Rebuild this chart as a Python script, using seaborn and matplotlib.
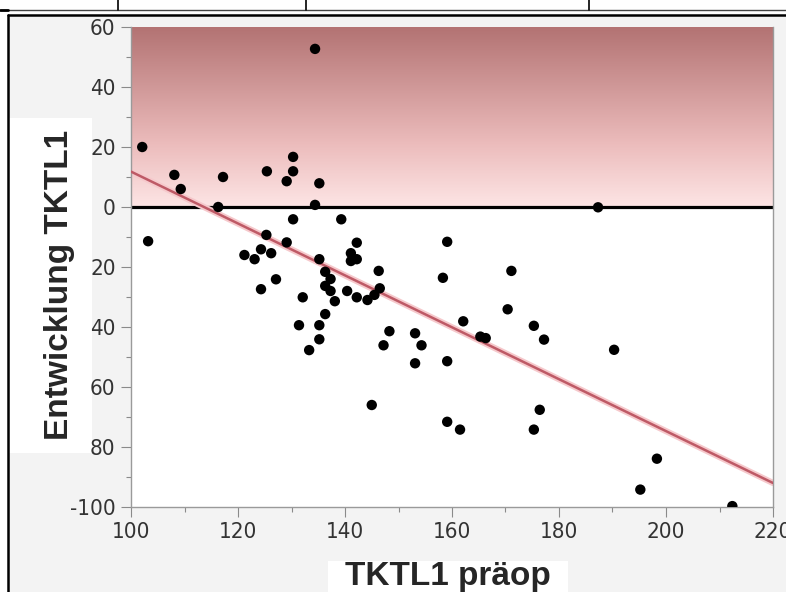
import numpy as np
import pandas as pd
import matplotlib
matplotlib.use("Agg")
import matplotlib.pyplot as plt
import seaborn as sns
from matplotlib.colors import LinearSegmentedColormap
from matplotlib.patches import Rectangle
from matplotlib.lines import Line2D
from matplotlib.ticker import MultipleLocator, FixedLocator, FixedFormatter

# ---- data ----
tktl1_praeop = [102.1, 103.2, 108.1, 109.3, 117.2, 116.3, 125.4, 130.3, 130.3, 129.1,
                135.2, 134.4, 134.4, 130.3, 139.3, 125.3, 129.1, 121.2, 123.1, 124.3,
                126.2, 135.2, 142.2, 141.1, 141.1, 142.2, 136.3, 137.3, 136.3, 137.3,
                127.1, 124.3, 132.1, 138.1, 140.4, 142.2, 136.3, 131.4, 135.2, 135.2,
                133.3, 146.3, 159.1, 158.3, 171.1, 146.5, 145.5, 144.2, 148.3, 147.2,
                153.1, 154.3, 153.1, 159.1, 162.1, 165.3, 166.3, 170.4, 187.3, 175.3,
                177.2, 190.3, 159.1, 161.5, 176.4, 175.3, 198.3, 195.2, 212.4, 145.0]
entwicklung = [20.0, -11.4, 10.7, 6.0, 10.0, 0.0, 11.9, 16.7, 11.9, 8.6,
               7.9, 0.7, 52.7, -4.1, -4.1, -9.3, -11.8, -16.0, -17.4, -14.1,
               -15.4, -17.4, -11.9, -15.4, -18.0, -17.4, -21.6, -24.0, -26.3, -28.0,
               -24.1, -27.4, -30.1, -31.4, -28.0, -30.1, -35.7, -39.4, -39.4, -44.1,
               -47.7, -21.3, -11.6, -23.6, -21.3, -27.1, -29.3, -31.0, -41.4, -46.1,
               -42.1, -46.1, -52.1, -51.4, -38.1, -43.2, -43.7, -34.1, -0.1, -39.6,
               -44.2, -47.6, -71.6, -74.2, -67.6, -74.2, -83.9, -94.2, -99.7, -66.0]
fit_x = [100, 220]
fit_y = [11.8, -92.0]
zone_y = [0, 60]
x_ticks = [100, 120, 140, 160, 180, 200, 220]
x_ticklabels = ["100", "120", "140", "160", "180", "200", "220"]
y_ticks = [60, 40, 20, 0, -20, -40, -60, -80, -100]
y_ticklabels = ["60", "40", "20", "0", "20", "40", "60", "80", "-100"]

df = pd.DataFrame({"x": tktl1_praeop, "y": entwicklung})
fit = pd.DataFrame({"x": fit_x, "y": fit_y})

sns.set_style("white")
plt.rcParams["font.family"] = ["DejaVu Sans"]
plt.rcParams["font.stretch"] = "condensed"

W, H = 786, 592
fig = plt.figure(figsize=(W / 100, H / 100), dpi=100, facecolor="white")

def fx(px):
    return px / W

def fy(py):
    return 1 - py / H

# background panel and frame
fig.add_artist(Rectangle((fx(8), 0), 1 - fx(8), fy(15), transform=fig.transFigure,
                         facecolor="#f3f3f3", edgecolor="none", zorder=-10))
fig.add_artist(Rectangle((fx(8), fy(453)), fx(92) - fx(8), fy(118) - fy(453),
                         transform=fig.transFigure, facecolor="white", edgecolor="none", zorder=-9))
fig.add_artist(Rectangle((fx(328), 0), fx(568) - fx(328), fy(561),
                         transform=fig.transFigure, facecolor="white", edgecolor="none", zorder=-9))
fig.add_artist(Line2D([fx(8), fx(8)], [0, fy(15)], transform=fig.transFigure, color="black", lw=1.8))
fig.add_artist(Line2D([fx(8), 1], [fy(15), fy(15)], transform=fig.transFigure, color="black", lw=1.8))
fig.add_artist(Line2D([0, 1], [fy(9.5), fy(9.5)], transform=fig.transFigure, color="#444444", lw=1.0))
fig.add_artist(Line2D([0, fx(8)], [fy(10), fy(10)], transform=fig.transFigure, color="black", lw=2.0))
for vx in (118, 306, 589):
    fig.add_artist(Line2D([fx(vx), fx(vx)], [fy(9.5), 1], transform=fig.transFigure, color="black", lw=1.2))

ax = fig.add_axes([fx(131), fy(507), fx(773) - fx(131), fy(27) - fy(507)])
ax.set_facecolor("white")

# gradient zone above zero
cmap = LinearSegmentedColormap.from_list("zone", [(0, "#fde5e5"), (0.35, "#ecbcbc"), (1, "#b37373")])
grad = np.linspace(0, 1, 256).reshape(-1, 1)
ax.imshow(grad, cmap=cmap, origin="lower", aspect="auto",
          extent=[x_ticks[0], x_ticks[-1], zone_y[0], zone_y[1]], zorder=0)

ax.axhline(0, color="black", lw=2.3, zorder=2)
sns.lineplot(data=fit, x="x", y="y", ax=ax, color="#f6c9cc", lw=4.5, zorder=2, legend=False)
sns.lineplot(data=fit, x="x", y="y", ax=ax, color="#be5a66", lw=1.8, zorder=3, legend=False)
sns.scatterplot(data=df, x="x", y="y", ax=ax, color="black", s=56, edgecolor="none", zorder=4)

ax.set_xlim(100, 220)
ax.set_ylim(-100, 60)
ax.xaxis.set_major_locator(FixedLocator(x_ticks))
ax.xaxis.set_major_formatter(FixedFormatter(x_ticklabels))
ax.xaxis.set_minor_locator(MultipleLocator(10))
ax.yaxis.set_major_locator(FixedLocator(y_ticks))
ax.yaxis.set_major_formatter(FixedFormatter(y_ticklabels))
ax.yaxis.set_minor_locator(MultipleLocator(10))
ax.tick_params(which="major", direction="out", length=7, width=0.8, color="#8a8a8a",
               labelsize=16, labelcolor="#333333", pad=4, left=True, bottom=True)
ax.tick_params(which="minor", direction="out", length=3.5, width=0.8, color="#8a8a8a",
               left=True, bottom=True)
for lab in ax.get_xticklabels() + ax.get_yticklabels():
    lab.set_fontstretch("condensed")

for side in ("left", "bottom", "right"):
    ax.spines[side].set_color("#9a9a9a")
    ax.spines[side].set_linewidth(1.0)
ax.spines["top"].set_visible(False)

ax.set_xlabel("TKTL1 präop", fontsize=24, fontweight="bold",
              family=["Liberation Sans", "DejaVu Sans"], fontstretch="normal")
ax.set_ylabel("Entwicklung TKTL1", fontsize=24, fontweight="bold",
              family=["Liberation Sans", "DejaVu Sans"], fontstretch="normal")
ax.xaxis.set_label_coords(0.494, -0.144)
ax.yaxis.set_label_coords(-0.111, 0.4625)
ax.xaxis.label.set_va("center")
ax.yaxis.label.set_va("center")

fig.savefig("out.png", dpi=100, facecolor=fig.get_facecolor())
